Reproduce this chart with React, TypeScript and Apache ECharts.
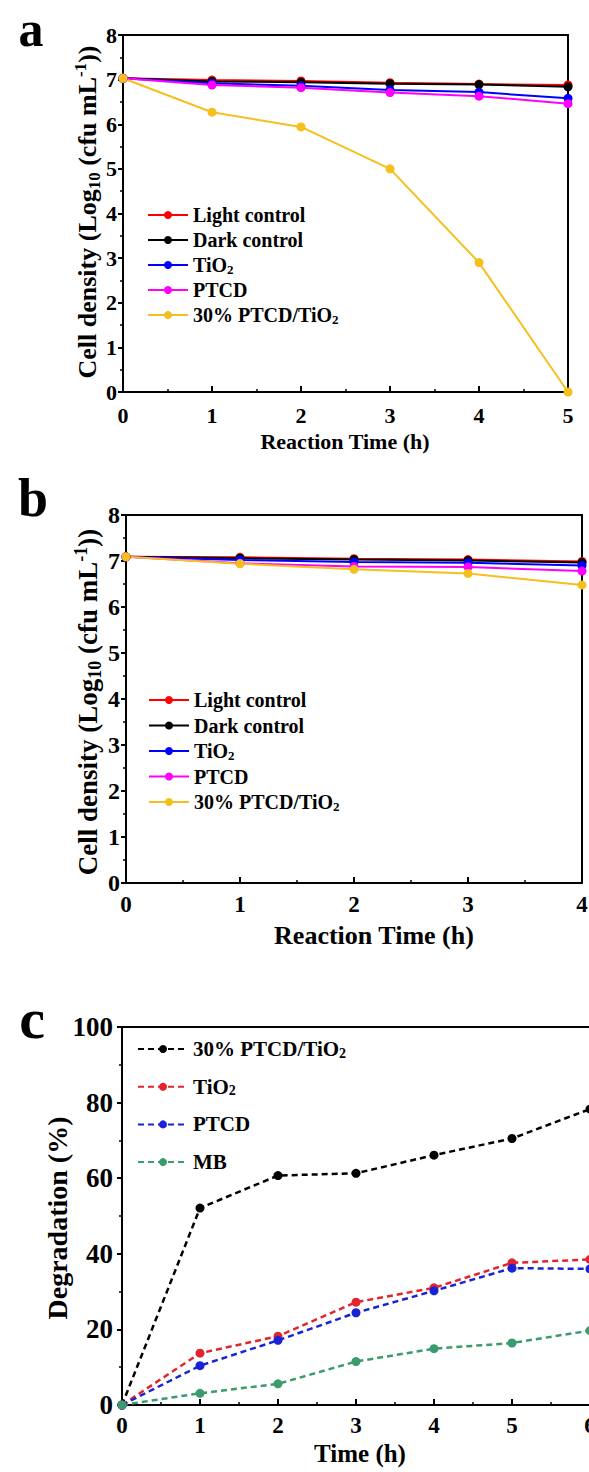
import React, { useEffect, useRef } from "react";
import * as echarts from "echarts";

// ---- Data ----
const hoursA = [0, 1, 2, 3, 4, 5];
const lightA = [7.03, 6.99, 6.97, 6.93, 6.9, 6.88];
const darkA = [7.03, 6.96, 6.94, 6.91, 6.89, 6.84];
const tio2A = [7.03, 6.92, 6.86, 6.77, 6.72, 6.58];
const ptcdA = [7.03, 6.88, 6.82, 6.71, 6.63, 6.46];
const compA = [7.03, 6.27, 5.94, 5.0, 2.9, 0];

const hoursB = [0, 1, 2, 3, 4];
const lightB = [7.09, 7.08, 7.05, 7.03, 6.99];
const darkB = [7.09, 7.06, 7.03, 7.01, 6.97];
const tio2B = [7.09, 7.02, 6.98, 6.96, 6.9];
const ptcdB = [7.09, 6.95, 6.88, 6.87, 6.78];
const compB = [7.09, 6.94, 6.82, 6.73, 6.48];

const hoursC = [0, 1, 2, 3, 4, 5, 6];
const compC = [0, 52.1, 60.7, 61.3, 66.1, 70.5, 78.3];
const tio2C = [0, 13.7, 18.2, 27.2, 31.0, 37.6, 38.5];
const ptcdC = [0, 10.4, 17.1, 24.4, 30.2, 36.2, 36.0];
const mbC = [0, 3.1, 5.6, 11.5, 14.9, 16.4, 19.7];

const namesAB = ["Light control", "Dark control", "TiO{sub|2}", "PTCD", "30% PTCD/TiO{sub|2}"];
const namesC = ["30% PTCD/TiO{sub|2}", "TiO{sub|2}", "PTCD", "MB"];

const colorsAB = ["#ff0000", "#000000", "#0000ff", "#ff00ff", "#f5c01d"];
const colorsC = ["#000000", "#e0262c", "#1a22d8", "#3a9c6c"];

const FONT = "Liberation Serif, Times New Roman, serif";

function pairs(xs: number[], ys: number[]) {
  return xs.map((x, i) => [x, ys[i]]);
}

function richFor(fs: number) {
  return {
    sub: { fontSize: Math.round(fs * 0.65), lineHeight: 6, verticalAlign: "bottom", fontFamily: FONT, fontWeight: "bold", color: "#000" },
    sup: { fontSize: Math.round(fs * 0.65), lineHeight: 6, verticalAlign: "top", fontFamily: FONT, fontWeight: "bold", color: "#000" },
  };
}

function xAx(grid: number, max: number, fs: number, margin: number) {
  return {
    type: "value",
    gridIndex: grid,
    min: 0,
    max,
    interval: 1,
    axisLine: { show: true, onZero: false, lineStyle: { color: "#000", width: 2 } },
    axisTick: { show: true, inside: true, length: 6, lineStyle: { color: "#000", width: 2 } },
    minorTick: { show: true, splitNumber: 2, length: 3, lineStyle: { color: "#000", width: 1.5 } },
    splitLine: { show: false },
    axisLabel: { color: "#000", fontFamily: FONT, fontWeight: "bold", fontSize: fs, margin },
  };
}

function yAx(grid: number, max: number, interval: number, fs: number, margin: number) {
  return {
    type: "value",
    gridIndex: grid,
    min: 0,
    max,
    interval,
    axisLine: { show: true, onZero: false, lineStyle: { color: "#000", width: 2 } },
    axisTick: { show: true, inside: false, length: 5, lineStyle: { color: "#000", width: 2 } },
    minorTick: { show: true, splitNumber: 2, length: 3, lineStyle: { color: "#000", width: 1.5 } },
    splitLine: { show: false },
    axisLabel: { color: "#000", fontFamily: FONT, fontWeight: "bold", fontSize: fs, margin },
  };
}

function titleText(text: string, x: number, y: number, fs: number, rot = 0) {
  return {
    type: "text",
    x,
    y,
    rotation: rot,
    style: {
      text,
      fontFamily: FONT,
      fontWeight: "bold",
      fontSize: fs,
      lineHeight: Math.round(fs * 1.2),
      fill: "#000",
      align: "center",
      verticalAlign: "middle",
      rich: richFor(fs),
    },
  };
}

export default function App() {
  const ref = useRef<HTMLDivElement>(null);
  useEffect(() => {
    if (!ref.current) return;
    const chart = echarts.init(ref.current, null, { renderer: "svg" });

    const series: any[] = [];
    const setA = [lightA, darkA, tio2A, ptcdA, compA];
    const setB = [lightB, darkB, tio2B, ptcdB, compB];
    const setC = [compC, tio2C, ptcdC, mbC];
    setA.forEach((vals, i) => {
      series.push({
        name: "a-" + namesAB[i],
        type: "line",
        xAxisIndex: 0,
        yAxisIndex: 0,
        data: pairs(hoursA, vals),
        symbol: "circle",
        symbolSize: 9,
        clip: false,
        lineStyle: { color: colorsAB[i], width: 2 },
        itemStyle: { color: colorsAB[i] },
      });
    });
    setB.forEach((vals, i) => {
      series.push({
        name: "b-" + namesAB[i],
        type: "line",
        xAxisIndex: 1,
        yAxisIndex: 1,
        data: pairs(hoursB, vals),
        symbol: "circle",
        symbolSize: 9,
        clip: false,
        lineStyle: { color: colorsAB[i], width: 2 },
        itemStyle: { color: colorsAB[i] },
      });
    });
    setC.forEach((vals, i) => {
      series.push({
        name: "c-" + namesC[i],
        type: "line",
        xAxisIndex: 2,
        yAxisIndex: 2,
        data: pairs(hoursC, vals),
        symbol: "circle",
        symbolSize: 9,
        clip: false,
        lineStyle: { color: colorsC[i], width: 2.5, type: [6, 4] },
        itemStyle: { color: colorsC[i] },
      });
    });

    const legendBase = (prefix: string, names: string[], left: number, top: number, gap: number, iw: number, fs: number) => ({
      orient: "vertical",
      left,
      top,
      padding: 0,
      itemGap: gap,
      itemWidth: iw,
      itemHeight: 10,
      data: names.map((n) => prefix + n),
      formatter: (name: string) => name.slice(2),
      selectedMode: false,
      textStyle: {
        color: "#000",
        fontFamily: FONT,
        fontWeight: "bold",
        fontSize: fs,
        lineHeight: 22,
        rich: richFor(fs),
      },
    });

    const gridBase = { show: true, borderColor: "#000", borderWidth: 2, containLabel: false, outerBoundsMode: "none" };

    chart.setOption({
      animation: false,
      backgroundColor: "#fff",
      grid: [
        { ...gridBase, left: 123, top: 35, width: 445, height: 357 },
        { ...gridBase, left: 126, top: 515, width: 456, height: 368 },
        { ...gridBase, left: 122, top: 1027, width: 468, height: 378 },
      ],
      xAxis: [xAx(0, 5, 22, 12), xAx(1, 4, 23, 10), xAx(2, 6, 23, 9)],
      yAxis: [yAx(0, 8, 1, 22, 6), yAx(1, 8, 1, 24, 6), yAx(2, 100, 20, 27, 9)],
      legend: [
        legendBase("a-", namesAB, 147, 204, 3, 40, 20),
        legendBase("b-", namesAB, 148, 689, 3.5, 40, 20),
        legendBase("c-", namesC, 137, 1038, 15.7, 50, 21),
      ],
      graphic: [
        titleText("a", 31, 29, 50),
        titleText("b", 33, 498, 54),
        titleText("c", 32, 1018, 58),
        titleText("Reaction Time (h)", 345, 441, 22),
        titleText("Reaction Time (h)", 374, 935, 26),
        titleText("Time (h)", 360, 1453, 25),
        titleText("Cell density (Log{sub|10} (cfu mL{sup|-1}))", 87, 212, 26, Math.PI / 2),
        titleText("Cell density (Log{sub|10} (cfu mL{sup|-1}))", 88, 702, 27, Math.PI / 2),
        titleText("Degradation (%)", 57, 1218, 28, Math.PI / 2),
      ],
      series,
    });
    return () => chart.dispose();
  }, []);
  return (
    <div
      ref={ref}
      style={{ position: "absolute", left: 0, top: 0, width: 589, height: 1472, background: "#fff" }}
    />
  );
}
